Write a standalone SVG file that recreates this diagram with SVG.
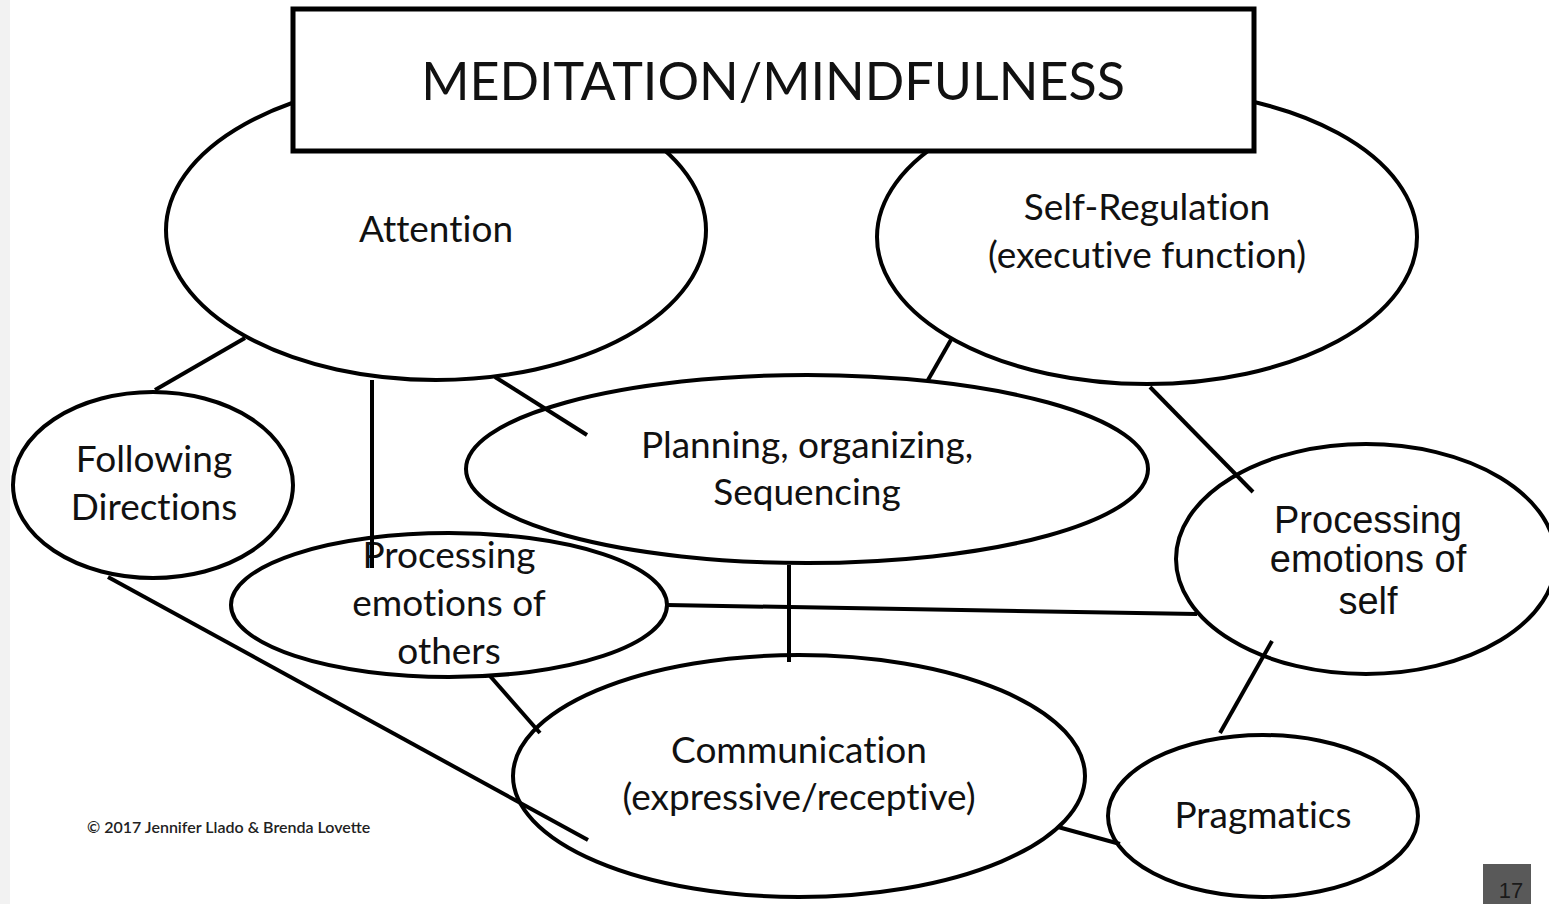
<svg xmlns="http://www.w3.org/2000/svg" width="1549" height="904" viewBox="0 0 1549 904">
  <style>
    .shape { fill: none; stroke: #000; stroke-width: 4; }
    .edge { stroke: #000; stroke-width: 4; stroke-linecap: butt; fill: none; }
    .lbl { font-family: Lato, "Open Sans", "Liberation Sans", sans-serif; font-size: 37px; fill: #111; text-anchor: middle; font-variant-ligatures: none; }
    .lbl2 { font-family: "Liberation Sans", Arial, sans-serif; font-size: 38px; fill: #111; text-anchor: middle; }
  </style>
  <rect x="0" y="0" width="1549" height="904" fill="#fff"/>
  <rect x="0" y="0" width="10" height="904" fill="#f2f2f2"/>

  <g id="node-attention">
    <ellipse class="shape" cx="436" cy="230" rx="270" ry="150"/>
    <text class="lbl" x="436" y="242">Attention</text>
  </g>
  <g id="node-self-regulation">
    <ellipse class="shape" cx="1147" cy="237" rx="270" ry="147"/>
    <text class="lbl" x="1147" y="220">Self-Regulation</text>
    <text class="lbl" x="1147" y="268">(executive function)</text>
  </g>
  <g id="node-following">
    <ellipse class="shape" cx="153" cy="485" rx="140" ry="93"/>
    <text class="lbl" x="154" y="472">Following</text>
    <text class="lbl" x="154" y="520">Directions</text>
  </g>
  <g id="node-planning">
    <ellipse class="shape" cx="807" cy="469" rx="341" ry="94"/>
    <text class="lbl" x="807" y="458">Planning, organizing,</text>
    <text class="lbl" x="807" y="505">Sequencing</text>
  </g>
  <g id="node-emotions-others">
    <ellipse class="shape" cx="449" cy="605" rx="218" ry="72"/>
    <text class="lbl" x="449" y="568">Processing</text>
    <text class="lbl" x="449" y="616">emotions of</text>
    <text class="lbl" x="449" y="664">others</text>
  </g>
  <g id="node-emotions-self">
    <ellipse class="shape" cx="1366" cy="559" rx="190" ry="115"/>
    <text class="lbl2" x="1368" y="533">Processing</text>
    <text class="lbl2" x="1368" y="572">emotions of</text>
    <text class="lbl2" x="1368" y="614">self</text>
  </g>
  <g id="node-communication">
    <ellipse class="shape" cx="799" cy="776" rx="286" ry="121"/>
    <text class="lbl" x="799" y="763">Communication</text>
    <text class="lbl" x="799" y="810">(expressive/receptive)</text>
  </g>
  <g id="node-pragmatics">
    <ellipse class="shape" cx="1263" cy="816" rx="155" ry="81"/>
    <text class="lbl" x="1263" y="828">Pragmatics</text>
  </g>

  <g id="node-title">
    <rect x="293" y="9" width="961" height="142" fill="#fff" stroke="#000" stroke-width="5"/>
    <text x="773" y="100" font-family="Lato, 'Open Sans', 'Liberation Sans', sans-serif" font-size="52" fill="#111" text-anchor="middle">MEDITATION/MINDFULNESS</text>
  </g>

  <g id="connectors">
    <line class="edge" x1="245" y1="338" x2="155" y2="390"/>
    <line class="edge" x1="372" y1="380" x2="372" y2="568"/>
    <line class="edge" x1="495" y1="377" x2="587" y2="435"/>
    <line class="edge" x1="952" y1="338" x2="928" y2="380"/>
    <line class="edge" x1="1150" y1="387" x2="1253" y2="492"/>
    <line class="edge" x1="789" y1="565" x2="789" y2="662"/>
    <line class="edge" x1="667" y1="605" x2="1197" y2="614"/>
    <line class="edge" x1="490" y1="676" x2="540" y2="733"/>
    <line class="edge" x1="108" y1="577" x2="588" y2="840"/>
    <line class="edge" x1="1272" y1="641" x2="1220" y2="733"/>
    <line class="edge" x1="1058" y1="827" x2="1120" y2="844"/>
  </g>

  <text x="87" y="833" font-family="Lato, 'Open Sans', 'Liberation Sans', sans-serif" font-size="16" font-weight="600" fill="#222">© 2017 Jennifer Llado &amp; Brenda Lovette</text>

  <g id="page-number">
    <rect x="1483" y="864" width="48" height="40" fill="#595959"/>
    <text x="1511" y="898" font-family="'Liberation Sans', Arial, sans-serif" font-size="22" fill="#1a1a1a" text-anchor="middle">17</text>
  </g>
</svg>
